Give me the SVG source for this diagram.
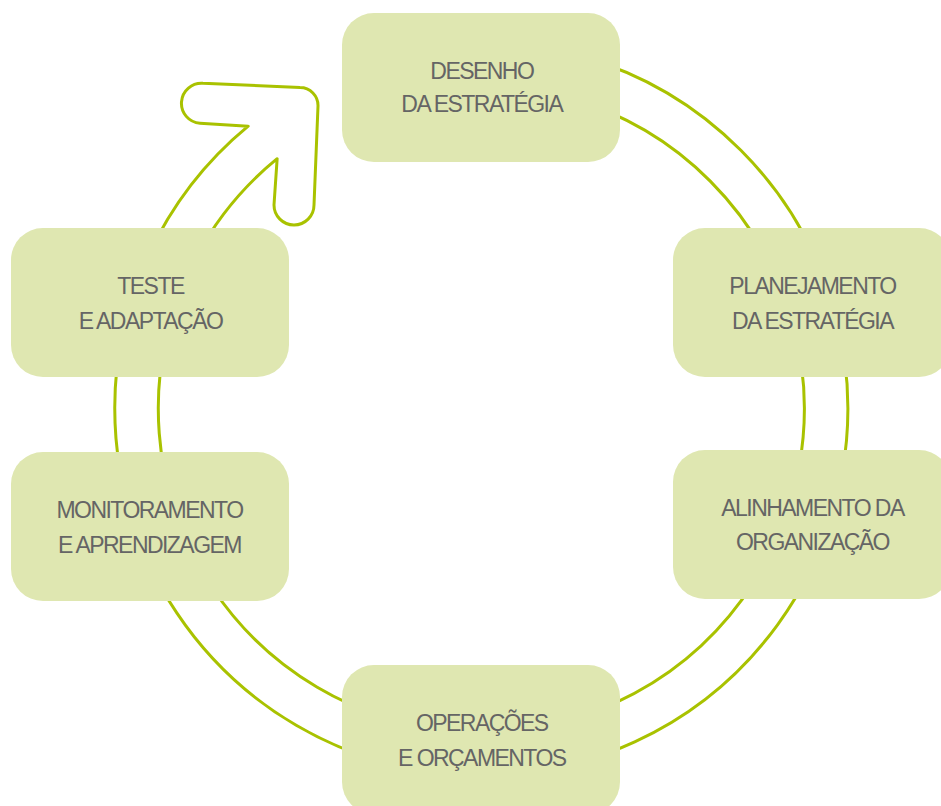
<svg xmlns="http://www.w3.org/2000/svg" width="941" height="806" viewBox="0 0 941 806">
<style>
.box{fill:#dfe7b1}
.lbl{font-family:"Liberation Sans",Arial,sans-serif;font-size:23px;fill:#656565;text-anchor:middle;letter-spacing:-1.55px}
.ring{fill:none;stroke:#a9c200;stroke-width:3;stroke-linejoin:round}
</style>
<rect width="941" height="806" fill="#ffffff"/>
<g id="connectors">
<path class="ring" d="M417.66,48.07 A366.5,366.5 0 1 1 248.18,126.2 L200,123.3 A20,20 0 0 1 203,83.3 L300,87.5 A18,18 0 0 1 318,106 L314,205 A20,20 0 0 1 274,205 L277.15,158.7 A323,323 0 1 0 425.2,90.9"/>
</g>
<g id="node-desenho">
<rect class="box" x="342" y="13" width="278" height="149" rx="32"/>
<text class="lbl" x="481.8" y="78.5">DESENHO</text>
<text class="lbl" x="481.8" y="112">DA ESTRATÉGIA</text>
</g>
<g id="node-planejamento">
<rect class="box" x="673" y="228" width="278" height="149" rx="32"/>
<text class="lbl" x="812.5" y="294">PLANEJAMENTO</text>
<text class="lbl" x="812.5" y="329">DA ESTRATÉGIA</text>
</g>
<g id="node-alinhamento">
<rect class="box" x="673" y="450" width="278" height="149" rx="32"/>
<text class="lbl" x="812.5" y="516">ALINHAMENTO DA</text>
<text class="lbl" x="812.5" y="550">ORGANIZAÇÃO</text>
</g>
<g id="node-operacoes">
<rect class="box" x="342" y="665" width="278" height="149" rx="32"/>
<text class="lbl" x="481.8" y="731">OPERAÇÕES</text>
<text class="lbl" x="481.8" y="766">E ORÇAMENTOS</text>
</g>
<g id="node-monitoramento">
<rect class="box" x="11" y="452" width="278" height="149" rx="32"/>
<text class="lbl" x="149.5" y="518">MONITORAMENTO</text>
<text class="lbl" x="149.5" y="553">E APRENDIZAGEM</text>
</g>
<g id="node-teste">
<rect class="box" x="11" y="228" width="278" height="149" rx="32"/>
<text class="lbl" x="150.5" y="294">TESTE</text>
<text class="lbl" x="150.5" y="329">E ADAPTAÇÃO</text>
</g>
</svg>
